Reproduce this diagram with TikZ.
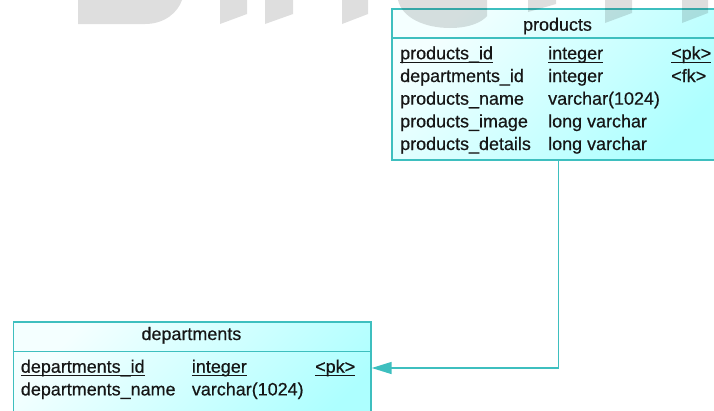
\documentclass[tikz,border=0pt]{standalone}
\usepackage{fontspec}
\setmainfont{Liberation Sans}
\newfontfamily\tblfont[FakeBold=0.5]{Liberation Sans}
\usetikzlibrary{arrows.meta}
\definecolor{edge}{HTML}{3EBFBF}
\definecolor{fillA}{HTML}{F4FFFF}
\definecolor{fillB}{HTML}{ADFFFF}
\definecolor{ink}{HTML}{161616}
\newcommand\pkline[1]{\setbox0=\hbox{#1}\rlap{\rule[-3.2pt]{\wd0}{0.9pt}}\box0}
\begin{document}
\begin{tikzpicture}[x=1pt,y=-1pt,
  tbl/.style={draw=edge, line width=1.5pt, top color=fillA, bottom color=fillB,
    shading angle=45, rectangle, inner sep=0pt, anchor=north west},
  txt/.style={anchor=base west, inner sep=0pt, text=ink, font=\tblfont\fontsize{17.95}{20}\selectfont},
  hdr/.style={anchor=base, inner sep=0pt, text=ink, font=\tblfont\fontsize{17.95}{20}\selectfont},
  conn/.style={draw=edge, line width=1.5pt},
  wm/.style={fill=black, opacity=0.13}]
\useasboundingbox (0,0) rectangle (714,410);
\clip (0,0) rectangle (714,410);
% products table
\node[tbl, minimum width=333pt, minimum height=151pt] (products) at (391,8) {};
\draw[conn] ([yshift=-30pt]products.north west) -- ([yshift=-30pt]products.north east);
\node[hdr] (ph) at (557.5,30.7) {products};
\node[txt] (p1a) at (400,59.3) {\pkline{products\_id}};
\node[txt] (p1b) at (548,59.3) {\pkline{integer}};
\node[txt] (p1c) at (671,59.3) {\pkline{<pk>}};
\node[txt] (p2a) at (400,82) {departments\_id};
\node[txt] (p2b) at (548,82) {integer};
\node[txt] (p2c) at (671,82) {<fk>};
\node[txt] (p3a) at (400,104.7) {products\_name};
\node[txt] (p3b) at (548,104.7) {varchar(1024)};
\node[txt] (p4a) at (400,127.4) {products\_image};
\node[txt] (p4b) at (548,127.4) {long varchar};
\node[txt] (p5a) at (400,150) {products\_details};
\node[txt] (p5b) at (548,150) {long varchar};
% departments table
\node[tbl, minimum width=357.5pt, minimum height=120pt] (dept) at (12.7,321) {};
\draw[conn] ([yshift=-30.7pt]dept.north west) -- ([yshift=-30.7pt]dept.north east);
\node[hdr] (dh) at (191.4,340) {departments};
\node[txt] (d1a) at (20.7,372.7) {\pkline{departments\_id}};
\node[txt] (d1b) at (191.7,372.7) {\pkline{integer}};
\node[txt] (d1c) at (315,372.7) {\pkline{<pk>}};
\node[txt] (d2a) at (20.7,395.4) {departments\_name};
\node[txt] (d2b) at (191.7,395.4) {varchar(1024)};
% reference connector
\draw[conn, -{Triangle[length=20pt,width=12pt]}] (products.south) |- ([yshift=-47pt]dept.north east);
% watermark
\fill[wm] (78,0) -- (78,24) -- (145,24) .. controls (165,24) and (178,12) .. (182,0) -- cycle;
\fill[wm] (220,0) -- (220,24) -- (247,14) -- (247,0) -- cycle;
\fill[wm] (265,0) -- (265,24) -- (293,14) -- (293,0) -- cycle;
\fill[wm] (342,0) -- (342,24) -- (368,14) -- (368,0) -- cycle;
\fill[wm] (398,0) .. controls (402,18) and (425,28) .. (450,28) .. controls (470,28) and (482,22) .. (487,16) -- (487,0) -- cycle;
\fill[wm] (528,0) -- (528,12) -- (556,4) -- (556,0) -- cycle;
\fill[wm] (605,0) -- (605,23) -- (632,13) -- (632,0) -- cycle;
\fill[wm] (682,0) -- (682,23) -- (708,13) -- (708,0) -- cycle;
\end{tikzpicture}
\end{document}
